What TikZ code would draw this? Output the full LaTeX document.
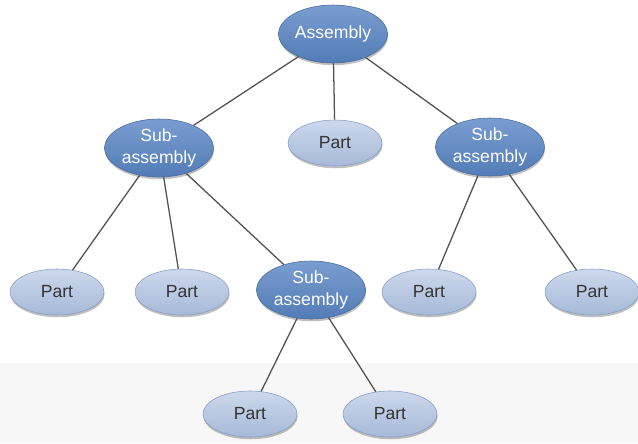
\documentclass[tikz,border=0pt]{standalone}
\usepackage{fontspec}
\setmainfont{Liberation Sans}
\usetikzlibrary{shapes.geometric,shadows}

\definecolor{subtop}{RGB}{122,157,208}
\definecolor{subbot}{RGB}{82,124,182}
\definecolor{subline}{RGB}{72,106,156}
\definecolor{parttop}{RGB}{204,216,236}
\definecolor{partbot}{RGB}{166,186,216}
\definecolor{partline}{RGB}{134,158,194}
\definecolor{edgecol}{RGB}{80,80,80}

\tikzset{
  blob/.style={ellipse,inner sep=0pt,drop shadow={shadow xshift=0.4pt,shadow yshift=-1.6pt,opacity=0.25,fill=black},
    font=\fontsize{12.5}{16}\selectfont,align=center},
  subnode/.style={blob,draw=subline,top color=subtop,bottom color=subbot,text=white,
    minimum width=2.72cm,minimum height=1.45cm},
  partnode/.style={blob,draw=partline,top color=parttop,bottom color=partbot,text=black!80,
    minimum width=2.35cm,minimum height=1.15cm},
  link/.style={draw=edgecol,line width=0.9pt}
}

\begin{document}
\begin{tikzpicture}[x=0.025cm,y=-0.025cm]

        \def\W{638}	 %width of picture (px)
        \def\H{443}	 %height of picture (px)

        \useasboundingbox (0,0) rectangle (\W,\H);
        %BACKGROUND (light band at the bottom)
        \fill[black!3] (0,363) rectangle (\W,\H);

        %TOP
        \node[subnode] (asm) at (333,34) {Assembly};
        %SECOND ROW
        \node[subnode] (subL) at (159,148) {Sub-\\assembly};
        \node[partnode] (partM) at (335,143) {Part};
        \node[subnode] (subR) at (490,147) {Sub-\\assembly};
        %THIRD ROW
        \node[partnode] (partA) at (57,292) {Part};
        \node[partnode] (partB) at (182,292) {Part};
        \node[subnode] (subC) at (311,290) {Sub-\\assembly};
        \node[partnode] (partD) at (429,292) {Part};
        \node[partnode] (partE) at (592,292) {Part};
        %BOTTOM ROW
        \node[partnode] (partF) at (250,414) {Part};
        \node[partnode] (partG) at (390,414) {Part};

        %LINKS
        \foreach \p/\c in {asm/subL,asm/partM,asm/subR,subL/partA,subL/partB,subL/subC,%
                           subC/partF,subC/partG,subR/partD,subR/partE}{
            \path[link] (\p) -- (\c);	% center to center, clipped at the borders
        } %end of links loop

\end{tikzpicture}
\end{document}
